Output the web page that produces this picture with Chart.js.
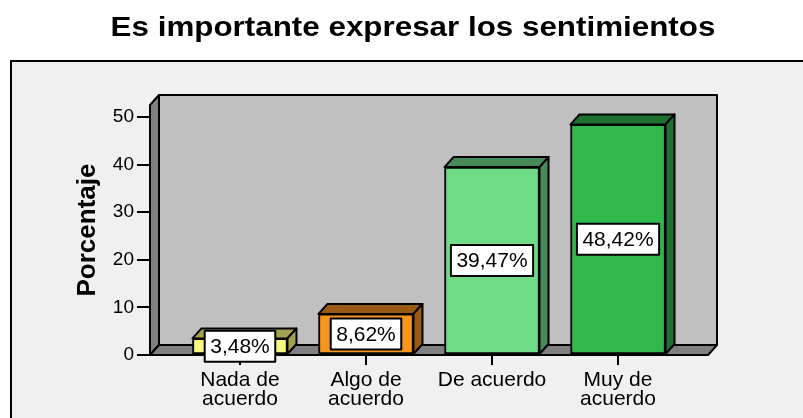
<!DOCTYPE html>
<html>
<head>
<meta charset="utf-8">
<script src="https://cdn.jsdelivr.net/npm/chart.js@4"></script>
<style>
  html, body { margin: 0; padding: 0; background: #fff; }
  #wrap { width: 803px; height: 418px; }
</style>
</head>
<body>
<div id="wrap"><canvas id="chart" width="803" height="418"></canvas></div>
<script>
// datos del gráfico
const chartTitle = 'Es importante expresar los sentimientos';
const categories = [['Nada de', 'acuerdo'], ['Algo de', 'acuerdo'], 'De acuerdo', ['Muy de', 'acuerdo']];
const percentages = [3.48, 8.62, 39.47, 48.42];
const yTicks = [0, 10, 20, 30, 40, 50];

// colores: cara frontal y cara lateral/superior
const frontColors = ['#f8f880', '#f7961e', '#70dc88', '#30b84a'];
const sideColors = ['#a0a050', '#9a5a14', '#488a58', '#1e7030'];

const FONT = "'Liberation Sans', Arial, sans-serif";
const DX = 9, DY = 10; // profundidad 3D

const fmtPct = v => v.toFixed(2).replace('.', ',') + '%';

const backdrop = {
  id: 'backdrop',
  beforeDraw(chart) {
    const ctx = chart.ctx;
    ctx.save();
    ctx.fillStyle = '#ffffff';
    ctx.fillRect(0, 0, chart.width, chart.height);
    ctx.fillStyle = '#f0f0f0';
    ctx.fillRect(11, 61, chart.width, chart.height);
    ctx.strokeStyle = '#000';
    ctx.lineWidth = 2;
    ctx.strokeRect(11, 61, chart.width + 20, chart.height + 20);

    // título
    ctx.translate(413, 28);
    ctx.scale(1.12, 1);
    ctx.fillStyle = '#000';
    ctx.font = 'bold 28px ' + FONT;
    ctx.textAlign = 'center';
    ctx.textBaseline = 'middle';
    ctx.fillText(chartTitle, 0, 0);
    ctx.restore();
  },
  beforeDatasetsDraw(chart) {
    const { ctx, chartArea: a } = chart;
    const poly = (pts, fill) => {
      ctx.beginPath();
      ctx.moveTo(pts[0][0], pts[0][1]);
      pts.slice(1).forEach(p => ctx.lineTo(p[0], p[1]));
      ctx.closePath();
      ctx.fillStyle = fill;
      ctx.fill();
      ctx.stroke();
    };
    ctx.save();
    ctx.strokeStyle = '#000';
    ctx.lineWidth = 2;
    ctx.lineJoin = 'round';
    // pared del fondo
    poly([[a.left + DX, a.top - DY], [a.right + DX, a.top - DY], [a.right + DX, a.bottom - DY], [a.left + DX, a.bottom - DY]], '#c0c0c0');
    // pared izquierda
    poly([[a.left, a.top], [a.left + DX, a.top - DY], [a.left + DX, a.bottom - DY], [a.left, a.bottom]], '#808080');
    // suelo
    poly([[a.left, a.bottom], [a.left + DX, a.bottom - DY], [a.right + DX, a.bottom - DY], [a.right, a.bottom]], '#808080');
    ctx.restore();
  },
  afterDatasetsDraw(chart) {
    const ctx = chart.ctx;
    const bars = chart.getDatasetMeta(0).data;
    ctx.save();
    ctx.strokeStyle = '#000';
    ctx.lineWidth = 2;
    ctx.lineJoin = 'round';
    bars.forEach((bar, i) => {
      const l = bar.x - bar.width / 2, r = bar.x + bar.width / 2;
      const t = bar.y, b = bar.base;
      ctx.fillStyle = sideColors[i];
      // cara superior
      ctx.beginPath();
      ctx.moveTo(l, t); ctx.lineTo(l + DX, t - DY); ctx.lineTo(r + DX, t - DY); ctx.lineTo(r, t);
      ctx.closePath(); ctx.fill(); ctx.stroke();
      // cara lateral
      ctx.beginPath();
      ctx.moveTo(r, t); ctx.lineTo(r + DX, t - DY); ctx.lineTo(r + DX, b - DY); ctx.lineTo(r, b);
      ctx.closePath(); ctx.fill(); ctx.stroke();
    });
    // etiquetas de porcentaje
    ctx.font = '21px ' + FONT;
    ctx.textAlign = 'center';
    ctx.textBaseline = 'middle';
    bars.forEach((bar, i) => {
      const txt = fmtPct(percentages[i]);
      const w = ctx.measureText(txt).width + 11;
      const h = 31;
      const cy = (bar.y + bar.base) / 2;
      ctx.fillStyle = '#fff';
      ctx.fillRect(bar.x - w / 2, cy - h / 2, w, h);
      ctx.strokeRect(bar.x - w / 2, cy - h / 2, w, h);
      ctx.fillStyle = '#000';
      ctx.fillText(txt, bar.x, cy + 1);
    });
    ctx.restore();
  }
};

new Chart(document.getElementById('chart'), {
  type: 'bar',
  data: {
    datasets: [{
      data: percentages.map((v, i) => ({ x: i, y: v })),
      backgroundColor: frontColors,
      borderColor: '#000',
      borderWidth: 2,
      borderSkipped: false,
      barThickness: 95
    }]
  },
  options: {
    responsive: false,
    animation: false,
    devicePixelRatio: 1,
    layout: { padding: { top: 105, right: 95, left: 0, bottom: 0 } },
    plugins: { legend: { display: false }, title: { display: false }, tooltip: { enabled: false } },
    scales: {
      x: {
        type: 'linear',
        offset: false,
        min: -0.714,
        max: 3.714,
        afterFit: s => { s.height = 63; },
        afterBuildTicks: s => { s.ticks = categories.map((c, i) => ({ value: i })); },
        grid: { offset: false, drawOnChartArea: false, tickLength: 10, color: '#000', lineWidth: 2 },
        border: { display: false },
        ticks: {
          autoSkip: false,
          maxRotation: 0,
          padding: 5,
          color: '#000',
          font: { family: FONT, size: 21, lineHeight: 0.93 },
          callback: v => categories[v]
        }
      },
      y: {
        min: 0,
        max: 52.5,
        afterFit: s => { s.width = 150; },
        afterBuildTicks: s => { s.ticks = yTicks.map(v => ({ value: v })); },
        grid: { drawOnChartArea: false, tickLength: 13, color: '#000', lineWidth: 2 },
        border: { display: false },
        ticks: {
          padding: 3,
          color: '#000',
          font: { family: FONT, size: 19 }
        },
        title: {
          display: true,
          text: 'Porcentaje',
          color: '#000',
          padding: { top: 72, bottom: 0 },
          font: { family: FONT, size: 26, weight: 'bold' }
        }
      }
    }
  },
  plugins: [backdrop]
});
</script>
</body>
</html>
